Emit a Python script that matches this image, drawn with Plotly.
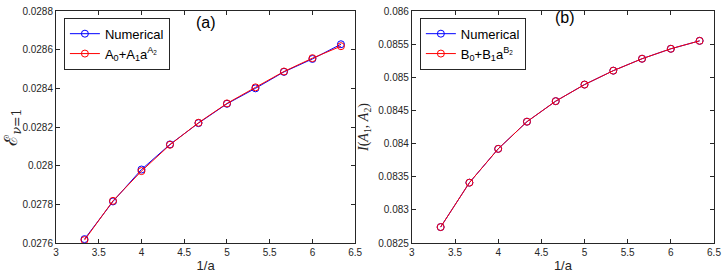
import plotly.graph_objects as go

inv_a = [10/3, 11/3, 4.0, 13/3, 14/3, 5.0, 16/3, 17/3, 6.0, 19/3]

E_numerical = [0.027620, 0.027815, 0.027980, 0.028110, 0.028220, 0.028320, 0.028400, 0.028485, 0.028552, 0.028628]
E_fit       = [0.027615, 0.027818, 0.027972, 0.028108, 0.028222, 0.028322, 0.028405, 0.028487, 0.028556, 0.028618]

I_numerical = [0.08274, 0.08341, 0.08392, 0.08433, 0.08464, 0.08489, 0.08510, 0.08528, 0.08543, 0.08555]
I_fit       = [0.08274, 0.08341, 0.08392, 0.08433, 0.08464, 0.08489, 0.08510, 0.08528, 0.08543, 0.08555]

x_ticks = [3, 3.5, 4, 4.5, 5, 5.5, 6, 6.5]
x_ticktext = ["3", "3.5", "4", "4.5", "5", "5.5", "6", "6.5"]
yl_ticks = [0.0276, 0.0278, 0.0280, 0.0282, 0.0284, 0.0286, 0.0288]
yl_ticktext = ["0.0276", "0.0278", "0.028", "0.0282", "0.0284", "0.0286", "0.0288"]
yr_ticks = [0.0825, 0.0830, 0.0835, 0.0840, 0.0845, 0.0850, 0.0855, 0.0860]
yr_ticktext = ["0.0825", "0.083", "0.0835", "0.084", "0.0845", "0.085", "0.0855", "0.086"]

BLUE = "#0000FF"
RED = "#FF0000"
AX = "#262626"
FONT = "Liberation Sans, Arial, sans-serif"

fig = go.Figure()

def add(x, y, name, color, xa, ya, legend):
    fig.add_trace(go.Scatter(
        x=x, y=y, name=name, mode="lines+markers",
        line=dict(color=color, width=1),
        marker=dict(symbol="circle-open", size=7, color=color, line=dict(width=1, color=color)),
        xaxis=xa, yaxis=ya, legend=legend))

add(inv_a, E_numerical, "Numerical", BLUE, "x", "y", "legend")
add(inv_a, E_fit, "A<sub>0</sub>+A<sub>1</sub>a<sup>A<sub>2</sub></sup>", RED, "x", "y", "legend")
add(inv_a, I_numerical, "Numerical", BLUE, "x2", "y2", "legend2")
add(inv_a, I_fit, "B<sub>0</sub>+B<sub>1</sub>a<sup>B<sub>2</sub></sup>", RED, "x2", "y2", "legend2")

common_x = dict(range=[3, 6.5], tickvals=x_ticks, ticktext=x_ticktext,
                showline=True, linecolor=AX, linewidth=1, mirror="ticks",
                ticks="inside", ticklen=4, tickcolor=AX, showgrid=False, zeroline=False,
                tickfont=dict(family=FONT, size=10, color=AX),
                title=dict(text="1/a", font=dict(family=FONT, size=13, color=AX), standoff=3))
common_y = dict(showline=True, linecolor=AX, linewidth=1, mirror="ticks",
                ticks="inside", ticklen=4, tickcolor=AX, showgrid=False, zeroline=False,
                tickfont=dict(family=FONT, size=10, color=AX))

leg = dict(bgcolor="white", bordercolor=AX, borderwidth=1,
           font=dict(family=FONT, size=13, color="black"),
           xanchor="left", yanchor="top", itemwidth=30, tracegroupgap=0)

fig.update_layout(
    width=726, height=276,
    margin=dict(l=56, r=8, t=5, b=33),
    plot_bgcolor="white", paper_bgcolor="white",
    xaxis=dict(domain=[0, 0.4547], anchor="y", **common_x),
    xaxis2=dict(domain=[0.5408, 1], anchor="y2", **common_x),
    yaxis=dict(range=[0.0276, 0.0288], tickvals=yl_ticks, ticktext=yl_ticktext, anchor="x",
               title=dict(text="ℰ<sub><i>ν</i>=1</sub>", font=dict(family="DejaVu Serif, serif", size=18, color=AX), standoff=5),
               **common_y),
    yaxis2=dict(range=[0.0825, 0.0860], tickvals=yr_ticks, ticktext=yr_ticktext, anchor="x2",
                title=dict(text="<i>I</i>(<i>A</i><sub>1</sub>, <i>A</i><sub>2</sub>)", font=dict(family="Liberation Serif, serif", size=14, color=AX), standoff=6),
                **common_y),
    legend=dict(x=0.012, y=0.971, **leg),
    legend2=dict(x=0.553, y=0.971, **leg),
    annotations=[
        dict(text="(a)", x=4.75, y=0.02874, xref="x", yref="y", showarrow=False,
             font=dict(family=FONT, size=16, color="black")),
        dict(text="(b)", x=4.77, y=0.0859, xref="x2", yref="y2", showarrow=False,
             font=dict(family=FONT, size=16, color="black")),
    ],
)

fig.write_html("out.html", config={"displayModeBar": False},
               post_script="document.body.style.margin='0';document.body.style.overflow='hidden';")
